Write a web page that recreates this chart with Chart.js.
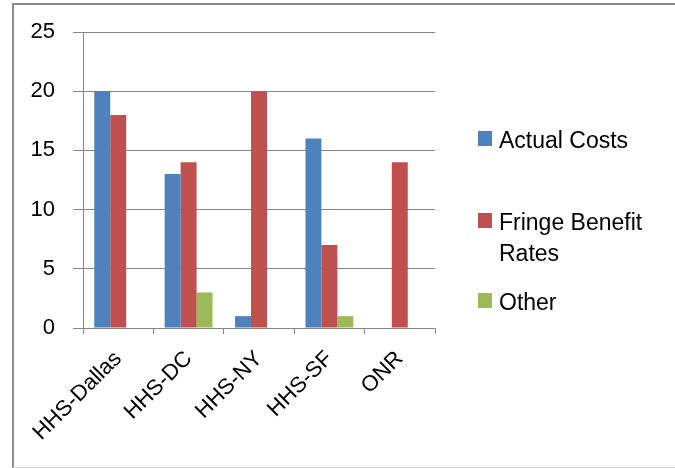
<!DOCTYPE html>
<html>
<head>
<meta charset="utf-8">
<script src="https://cdn.jsdelivr.net/npm/chart.js@4/dist/chart.umd.min.js"></script>
<style>
  html, body { margin: 0; padding: 0; background: #fff; }
  #wrap { position: relative; width: 675px; height: 468px; }
</style>
</head>
<body>
<div id="wrap"><canvas id="costChart" width="675" height="468"></canvas></div>
<script>
// datos del grafico
const categories = ['HHS-Dallas', 'HHS-DC', 'HHS-NY', 'HHS-SF', 'ONR'];
const actualCosts = [20, 13, 1, 16, 0];
const fringeRates = [18, 14, 20, 7, 14];
const otherValues = [0, 3, 0, 1, 0];
const yTicks = [0, 5, 10, 15, 20, 25];

const FONT = '"Liberation Sans", Arial, sans-serif';

// marco gris alrededor del grafico
const framePlugin = {
    id: 'frame',
    beforeDraw(chart) {
        const ctx = chart.ctx;
        ctx.save();
        ctx.strokeStyle = '#8c8c8c';
        ctx.lineWidth = 2;
        ctx.beginPath();
        ctx.moveTo(13, 468);
        ctx.lineTo(13, 4);
        ctx.lineTo(675, 4);
        ctx.stroke();
        ctx.strokeStyle = '#d4d4d4';
        ctx.lineWidth = 1;
        ctx.beginPath();
        ctx.moveTo(13, 467.5);
        ctx.lineTo(675, 467.5);
        ctx.stroke();
        ctx.restore();
    }
};

// leyenda a la derecha, con texto en varias lineas
const legendPlugin = {
    id: 'sideLegend',
    afterDraw(chart) {
        const ctx = chart.ctx;
        const rows = [
            { lines: ['Actual Costs'], top: 131 },
            { lines: ['Fringe Benefit', 'Rates'], top: 213 },
            { lines: ['Other'], top: 293 }
        ];
        ctx.save();
        ctx.font = '23px ' + FONT;
        ctx.textBaseline = 'alphabetic';
        ctx.textAlign = 'left';
        chart.data.datasets.forEach((ds, i) => {
            const r = rows[i];
            ctx.fillStyle = ds.backgroundColor;
            ctx.fillRect(478, r.top, 14, 15);
            ctx.fillStyle = '#000';
            r.lines.forEach((t, j) => {
                ctx.fillText(t, 499, r.top + 17 + j * 31);
            });
        });
        ctx.restore();
    }
};

const ctx = document.getElementById('costChart').getContext('2d');
const costChart = new Chart(ctx, {
    type: 'bar',
    data: {
        labels: categories,
        datasets: [
            { label: 'Actual Costs', data: actualCosts, backgroundColor: '#4F81BD' },
            { label: 'Fringe Benefit Rates', data: fringeRates, backgroundColor: '#C0504D' },
            { label: 'Other', data: otherValues, backgroundColor: '#9BBB59' }
        ]
    },
    options: {
        responsive: false,
        animation: false,
        devicePixelRatio: 1,
        layout: { padding: { left: 0, top: 32, right: 240, bottom: 0 } },
        datasets: {
            bar: { categoryPercentage: 0.68, barPercentage: 1.0 }
        },
        plugins: {
            legend: { display: false },
            tooltip: { enabled: false }
        },
        scales: {
            x: {
                afterFit: scale => { scale.height = 140; },
                grid: {
                    drawOnChartArea: false,
                    drawTicks: true,
                    tickLength: 6,
                    color: '#868686',
                    offset: true
                },
                border: { color: '#868686', width: 1 },
                ticks: {
                    minRotation: 45,
                    maxRotation: 45,
                    padding: 12,
                    color: '#000',
                    font: { family: FONT, size: 22 }
                }
            },
            y: {
                min: 0,
                max: 25,
                afterFit: scale => { scale.width = 83; },
                afterBuildTicks: scale => {
                    scale.ticks = yTicks.map(v => ({ value: v }));
                },
                grid: {
                    color: '#868686',
                    lineWidth: 1,
                    drawTicks: true,
                    tickLength: 10
                },
                border: { color: '#868686', width: 1 },
                ticks: {
                    padding: 18,
                    color: '#000',
                    font: { family: FONT, size: 22 }
                }
            }
        }
    },
    plugins: [framePlugin, legendPlugin]
});
</script>
</body>
</html>
